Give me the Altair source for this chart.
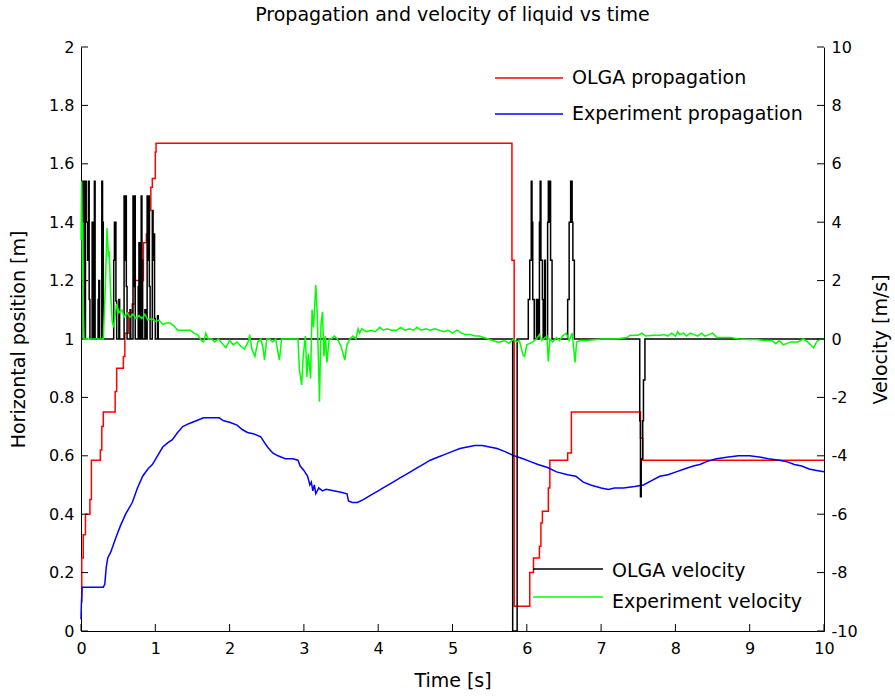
import altair as alt
import pandas as pd

# ---------------- data ----------------
# OLGA propagation (left axis, stair-step)
olga_prop_t = [0.00, 0.01, 0.03, 0.06, 0.12, 0.14, 0.26, 0.28, 0.30, 0.46, 0.48, 0.57, 0.59,
               0.64, 0.69, 0.73, 0.84, 0.88, 0.92, 0.94, 0.96, 1.00, 1.01, 5.80, 5.83, 6.04,
               6.09, 6.17, 6.19, 6.21, 6.29, 6.31, 6.55, 6.60, 7.53, 7.56, 10.0]
olga_prop_v = [0.10, 0.25, 0.33, 0.40, 0.45, 0.585, 0.62, 0.70, 0.75, 0.82, 0.90, 0.94, 1.02,
               1.09, 1.12, 1.20, 1.33, 1.36, 1.44, 1.52, 1.55, 1.64, 1.67, 1.27, 0.085, 0.20,
               0.25, 0.29, 0.37, 0.41, 0.49, 0.585, 0.61, 0.75, 0.66, 0.585, 0.585]

# Experiment propagation (left axis)
exp_prop_t = [0.00, 0.005, 0.01, 0.015, 0.30, 0.32, 0.34, 0.36, 0.40, 0.47, 0.53, 0.60, 0.69,
              0.76, 0.83, 0.90, 0.96, 1.03, 1.10, 1.17, 1.23, 1.30, 1.37, 1.45, 1.55, 1.65,
              1.78, 1.86, 1.92, 2.00, 2.10, 2.17, 2.24, 2.33, 2.42, 2.47, 2.51, 2.58, 2.65,
              2.75, 2.85, 2.92, 2.95, 3.00, 3.05, 3.08, 3.10, 3.12, 3.14, 3.16, 3.20, 3.25,
              3.30, 3.40, 3.50, 3.58, 3.60, 3.65, 3.72, 3.80, 3.90, 4.00, 4.10, 4.20, 4.30,
              4.40, 4.50, 4.60, 4.70, 4.80, 4.90, 5.00, 5.10, 5.20, 5.30, 5.40, 5.50, 5.60,
              5.70, 5.83, 5.95, 6.05, 6.15, 6.28, 6.40, 6.55, 6.66, 6.76, 6.86, 7.00, 7.10,
              7.18, 7.30, 7.45, 7.57, 7.68, 7.79, 7.90, 8.01, 8.12, 8.24, 8.33, 8.42, 8.55,
              8.69, 8.85, 9.00, 9.15, 9.25, 9.40, 9.50, 9.60, 9.70, 9.80, 9.90, 10.0]
exp_prop_v = [0.04, 0.09, 0.12, 0.15, 0.15, 0.16, 0.22, 0.25, 0.27, 0.32, 0.36, 0.40, 0.44,
              0.49, 0.53, 0.555, 0.57, 0.60, 0.63, 0.645, 0.655, 0.68, 0.70, 0.71, 0.72, 0.73,
              0.73, 0.73, 0.72, 0.715, 0.705, 0.69, 0.68, 0.675, 0.665, 0.645, 0.63, 0.61, 0.60,
              0.59, 0.59, 0.585, 0.565, 0.55, 0.53, 0.50, 0.51, 0.48, 0.50, 0.47, 0.49, 0.48,
              0.485, 0.48, 0.475, 0.47, 0.445, 0.44, 0.44, 0.45, 0.465, 0.48, 0.495, 0.51, 0.525,
              0.54, 0.555, 0.57, 0.585, 0.595, 0.605, 0.615, 0.625, 0.63, 0.635, 0.635, 0.63, 0.625,
              0.615, 0.60, 0.59, 0.58, 0.57, 0.56, 0.545, 0.535, 0.53, 0.51, 0.50, 0.49, 0.485,
              0.49, 0.49, 0.495, 0.50, 0.515, 0.53, 0.535, 0.545, 0.555, 0.565, 0.57, 0.58, 0.59,
              0.595, 0.60, 0.60, 0.595, 0.59, 0.585, 0.58, 0.57, 0.565, 0.555, 0.55, 0.545]

# OLGA velocity (right axis, stair-step)
olga_vel_t = [0.00, 0.01, 0.02, 0.03, 0.04, 0.05, 0.06, 0.07, 0.09, 0.10, 0.11, 0.12, 0.15, 0.16,
              0.18, 0.19, 0.23, 0.24, 0.25, 0.28, 0.29, 0.30, 0.44, 0.45, 0.47, 0.48, 0.51, 0.52,
              0.58, 0.59, 0.60, 0.61, 0.62, 0.66, 0.67, 0.70, 0.71, 0.72, 0.73, 0.77, 0.78, 0.79,
              0.81, 0.82, 0.83, 0.86, 0.87, 0.89, 0.90, 0.91, 0.92, 0.93, 0.96, 0.97, 0.98, 0.99,
              1.00, 1.03, 1.04, 5.81, 5.87, 6.02, 6.04, 6.06, 6.07, 6.08, 6.10, 6.13, 6.15, 6.17,
              6.18, 6.19, 6.21, 6.22, 6.24, 6.25, 6.28, 6.29, 6.30, 6.31, 6.32, 6.34, 6.55, 6.57,
              6.59, 6.61, 6.62, 6.64, 7.52, 7.53, 7.54, 7.56, 7.57, 7.59, 10.0]
olga_vel_v = [0, 5.4, 2.7, 5.4, 1.35, 0, 5.4, 4.0, 2.7, 5.4, 1.35, 0, 4.0, 0,
              5.4, 0, 1.35, 2.0, 0, 5.4, 4.0, 0, 2.7, 4.0, 1.3, 0, 1.35, 0,
              4.9, 2.7, 4.9, 1.8, 0, 1.0, 0, 4.9, 1.8, 4.9, 0, 1.8, 3.3, 0,
              4.9, 2.7, 0, 1.0, 0, 4.9, 2.7, 4.9, 1.8, 0, 4.4, 2.7, 3.6, 0.7,
              0, 0.8, 0, -10, 0, 1.35, 2.7, 5.4, 4.0, 1.35, 0, 1.35, 0, 4.0,
              5.4, 2.7, 1.35, 0, 2.7, 0, 4.0, 5.4, 4.0, 5.4, 2.7, 0, 1.35, 4.0,
              5.4, 4.0, 2.7, 0, -2.8, -5.4, -4.1, -2.8, -1.4, 0, 0]

# Experiment velocity (right axis)
exp_vel_t = [0.00, 0.01, 0.02, 0.025, 0.03, 0.04, 0.30, 0.33, 0.35, 0.37, 0.38, 0.40, 0.42,
             0.44, 0.46, 0.48, 0.51, 0.55, 0.58, 0.62, 0.66, 0.70, 0.74, 0.78, 0.82, 0.86,
             0.90, 0.95, 1.00, 1.05, 1.10, 1.15, 1.20, 1.25, 1.30, 1.35, 1.40, 1.47, 1.52,
             1.57, 1.62, 1.65, 1.68, 1.71, 1.76, 1.80, 1.85, 1.90, 1.95, 2.00, 2.05, 2.10,
             2.15, 2.20, 2.25, 2.27, 2.30, 2.34, 2.38, 2.42, 2.45, 2.47, 2.50, 2.54, 2.58,
             2.62, 2.67, 2.70, 2.78, 2.92, 2.94, 2.97, 2.99, 3.02, 3.04, 3.06, 3.09, 3.11,
             3.13, 3.16, 3.18, 3.21, 3.23, 3.25, 3.27, 3.29, 3.31, 3.34, 3.37, 3.41, 3.45,
             3.50, 3.55, 3.58, 3.62, 3.66, 3.70, 3.73, 3.75, 3.78, 3.84, 3.90, 3.96, 4.02,
             4.07, 4.12, 4.18, 4.25, 4.30, 4.36, 4.42, 4.48, 4.52, 4.58, 4.64, 4.70, 4.76,
             4.82, 4.88, 4.94, 5.00, 5.06, 5.12, 5.18, 5.24, 5.30, 5.36, 5.42, 5.48, 5.54,
             5.60, 5.64, 5.70, 5.76, 5.82, 5.86, 5.90, 5.95, 5.97, 6.00, 6.04, 6.08, 6.13,
             6.17, 6.20, 6.27, 6.29, 6.31, 6.35, 6.40, 6.44, 6.48, 6.53, 6.57, 6.61, 6.65,
             6.67, 6.72, 6.80, 7.00, 7.20, 7.35, 7.39, 7.50, 7.55, 7.60, 7.70, 7.80, 7.85,
             7.90, 7.95, 8.00, 8.03, 8.06, 8.11, 8.15, 8.20, 8.25, 8.30, 8.35, 8.40, 8.45,
             8.50, 8.56, 8.65, 8.75, 8.85, 9.00, 9.10, 9.20, 9.30, 9.35, 9.40, 9.45, 9.55,
             9.65, 9.72, 9.78, 9.86, 9.90, 9.95, 10.0]
exp_vel_v = [3.4, 5.4, 2.0, 4.0, 1.3, 0.0, 0.0, 2.0, 3.8, 2.8, 3.0, 1.5, 0.6,
             0.4, 0.8, 1.2, 0.9, 1.0, 0.75, 0.9, 0.75, 0.85, 0.7, 0.8, 0.7, 0.85,
             0.65, 0.7, 0.6, 0.65, 0.5, 0.55, 0.55, 0.45, 0.3, 0.3, 0.3, 0.3, 0.2,
             0.15, -0.05, -0.1, 0.2, 0.0, 0.0, -0.1, 0.0, -0.15, -0.3, -0.05, -0.2, -0.1,
             -0.25, -0.35, -0.1, 0.15, -0.35, -0.6, -0.1, 0.0, -0.3, -0.72, 0.0, 0.0, -0.1,
             0.0, -0.72, 0.0, 0.0, 0.0, -1.05, -1.57, -0.6, 0.1, -1.3, -0.5, -1.35, 1.0,
             0.4, 1.85, 0.8, -2.15, 0.5, 0.93, -0.6, 0.1, -0.8, 0.0, 0.0, 0.1, 0.0,
             -0.25, -0.72, -0.2, 0.0, 0.1, 0.0, 0.35, 0.2, 0.35, 0.25, 0.3, 0.25, 0.4,
             0.3, 0.35, 0.3, 0.3, 0.4, 0.3, 0.35, 0.3, 0.4, 0.3, 0.35, 0.3, 0.35,
             0.3, 0.25, 0.3, 0.2, 0.3, 0.2, 0.15, 0.15, 0.1, 0.1, 0.05, 0.0, -0.05,
             -0.1, -0.1, -0.05, -0.15, 0.0, -0.1, -0.05, -0.55, -0.6, -0.2, -0.15, -0.1, 0.0,
             0.15, -0.05, 0.1, -0.77, 0.0, -0.1, 0.05, -0.05, 0.1, 0.2, -0.05, 0.2, -0.8,
             -0.1, -0.05, -0.05, 0.0, 0.0, 0.05, 0.13, 0.13, 0.2, 0.1, 0.13, 0.13, 0.15,
             0.1, 0.2, 0.1, 0.25, 0.15, 0.2, 0.1, 0.2, 0.15, 0.1, 0.2, 0.1, 0.15,
             0.2, 0.05, 0.05, 0.05, 0.0, -0.02, -0.02, -0.05, -0.05, -0.16, -0.05, -0.2, -0.1,
             -0.1, 0.0, -0.1, -0.3, -0.1, 0.0, 0.0]

x_ticks = [0, 1, 2, 3, 4, 5, 6, 7, 8, 9, 10]
left_ticks = [0, 0.2, 0.4, 0.6, 0.8, 1.0, 1.2, 1.4, 1.6, 1.8, 2.0]
right_ticks = [-10, -8, -6, -4, -2, 0, 2, 4, 6, 8, 10]

title_text = "Propagation and velocity of liquid vs time"
legend_prop = ["OLGA propagation", "Experiment propagation"]
legend_vel = ["OLGA velocity", "Experiment velocity"]

# ---------------- chart ----------------
W, H = 743, 584
FONT = "DejaVu Sans"
TICK = 7

x_scale = alt.Scale(domain=[0, 10], nice=False, zero=False)
yl_scale = alt.Scale(domain=[0, 2], nice=False, zero=False)
yr_scale = alt.Scale(domain=[-10, 10], nice=False, zero=False)

x_axis = alt.Axis(values=x_ticks, title="Time [s]", ticks=False, grid=False, labelPadding=9,
                  domainColor="black", domainWidth=1, labelColor="black", titleColor="black",
                  labelFont=FONT, titleFont=FONT, labelFontSize=16, titleFontSize=19,
                  titleFontWeight="normal", titleX=W / 2, titleY=49, titleBaseline="middle",
                  labelExpr="toString(datum.value)", labelFlush=False)
yl_axis = alt.Axis(values=left_ticks, title="Horizontal position [m]", orient="left",
                   ticks=False, grid=False, labelPadding=7, domainColor="black",
                   labelColor="black", titleColor="black", labelFont=FONT, titleFont=FONT,
                   labelFontSize=16, titleFontSize=19, titleFontWeight="normal",
                   titleAngle=270, titleX=-63, titleY=H / 2, titleBaseline="middle",
                   labelExpr="toString(round(datum.value * 10) / 10)", labelFlush=False)
yr_axis = alt.Axis(values=right_ticks, title="Velocity [m/s]", orient="right",
                   ticks=False, grid=False, labelPadding=7, domainColor="black",
                   labelColor="black", titleColor="black", labelFont=FONT, titleFont=FONT,
                   labelFontSize=16, titleFontSize=19, titleFontWeight="normal",
                   titleAngle=270, titleX=56, titleY=H / 2, titleBaseline="middle",
                   labelExpr="toString(datum.value)", labelFlush=False)

X = alt.X("t:Q", scale=x_scale, axis=x_axis)

red_df = pd.DataFrame({"t": olga_prop_t, "v": olga_prop_v})
blue_df = pd.DataFrame({"t": exp_prop_t, "v": exp_prop_v})
black_df = pd.DataFrame({"t": olga_vel_t, "v": olga_vel_v})
green_df = pd.DataFrame({"t": exp_vel_t, "v": exp_vel_v})

red = alt.Chart(red_df).mark_line(interpolate="step-after", color="#ff0000", strokeWidth=1.5).encode(
    x=X, y=alt.Y("v:Q", scale=yl_scale, axis=yl_axis))
blue = alt.Chart(blue_df).mark_line(color="#0000ff", strokeWidth=1.5).encode(
    x=X, y=alt.Y("v:Q", scale=yl_scale, axis=yl_axis))
xticks = alt.Chart(pd.DataFrame({"t": x_ticks})).mark_rule(color="black", strokeWidth=1).encode(
    x=X, y=alt.value(H), y2=alt.value(H - TICK))
lticks = alt.Chart(pd.DataFrame({"v": left_ticks})).mark_rule(color="black", strokeWidth=1).encode(
    y=alt.Y("v:Q", scale=yl_scale, axis=yl_axis), x=alt.value(0), x2=alt.value(TICK))

black = alt.Chart(black_df).mark_line(interpolate="step-after", color="#000000", strokeWidth=1.5).encode(
    x=X, y=alt.Y("v:Q", scale=yr_scale, axis=yr_axis))
green = alt.Chart(green_df).mark_line(color="#00ff00", strokeWidth=1.5).encode(
    x=X, y=alt.Y("v:Q", scale=yr_scale, axis=yr_axis))
rticks = alt.Chart(pd.DataFrame({"v": right_ticks})).mark_rule(color="black", strokeWidth=1).encode(
    y=alt.Y("v:Q", scale=yr_scale, axis=yr_axis), x=alt.value(W - TICK), x2=alt.value(W))

left = alt.layer(red, blue, xticks, lticks)
right = alt.layer(black, green, rticks)


def legend_entry(label, color, x0, x1, ly, ty):
    df = pd.DataFrame({"label": [label]})
    line = alt.Chart(df).mark_rule(color=color, strokeWidth=1.5).encode(
        x=alt.value(x0), x2=alt.value(x1), y=alt.value(ly))
    txt = alt.Chart(df).mark_text(align="left", baseline="middle", font=FONT, fontSize=19,
                                  color="black").encode(
        x=alt.value(x1 + 9), y=alt.value(ty), text="label:N")
    return [line, txt]


legend_layers = []
legend_layers += legend_entry(legend_prop[0], "#ff0000", 414, 482, 31, 31)
legend_layers += legend_entry(legend_prop[1], "#0000ff", 414, 482, 67, 67)
legend_layers += legend_entry(legend_vel[0], "#000000", 452, 522, 522, 524)
legend_layers += legend_entry(legend_vel[1], "#00ff00", 452, 522, 550, 555)

chart = alt.layer(left, right, *legend_layers).resolve_scale(y="independent").properties(
    width=W, height=H,
    padding={"left": 81, "top": 47, "right": 71, "bottom": 66},
    autosize=alt.AutoSizeParams(type="none"),
    title=alt.TitleParams(title_text, font=FONT, fontSize=19, fontWeight="normal",
                          color="black", anchor="middle", frame="group", offset=14),
    background="white",
).configure_view(stroke=None)

chart.save("out.html", embed_options={"renderer": "svg", "actions": False})
